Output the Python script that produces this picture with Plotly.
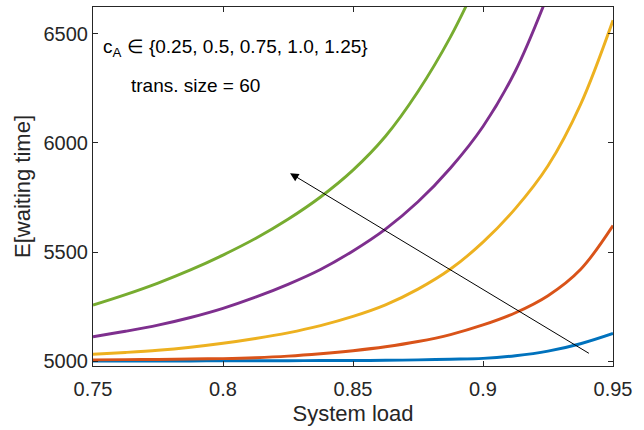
import plotly.graph_objects as go

# ---- data ----
load_grid = [0.75, 0.7625, 0.775, 0.7875, 0.8, 0.8125, 0.825, 0.8375, 0.85,
             0.8625, 0.875, 0.8875, 0.9, 0.9125, 0.925, 0.9375, 0.95]
wait_ca_025 = [5001, 5001, 5001, 5001, 5002, 5002, 5002, 5003, 5003,
               5004, 5006, 5009, 5013, 5025, 5046, 5080, 5127]
wait_ca_050 = [5006, 5007, 5008, 5010, 5012, 5016, 5023, 5034, 5048,
               5066, 5090, 5122, 5166, 5222, 5300, 5420, 5621]
wait_ca_075 = [5032, 5040, 5050, 5064, 5082, 5104, 5130, 5163, 5205,
               5258, 5330, 5422, 5545, 5700, 5895, 6175, 6561]

load_ca_100 = [0.75, 0.7625, 0.775, 0.7875, 0.8, 0.8125, 0.825, 0.8375, 0.85,
               0.8625, 0.875, 0.8875, 0.9, 0.9125, 0.925]
wait_ca_100 = [5112, 5137, 5165, 5200, 5242, 5293, 5352, 5420, 5505,
               5605, 5730, 5885, 6075, 6330, 6680]

load_ca_125 = [0.75, 0.7625, 0.775, 0.7875, 0.8, 0.8125, 0.825, 0.8375, 0.85,
               0.8625, 0.875, 0.8875, 0.9]
wait_ca_125 = [5257, 5305, 5358, 5418, 5486, 5562, 5650, 5752, 5875,
               6030, 6235, 6485, 6790]

series = [
    ("c_A = 0.25", load_grid, wait_ca_025, "#0072BD"),
    ("c_A = 0.5", load_grid, wait_ca_050, "#D95319"),
    ("c_A = 0.75", load_grid, wait_ca_075, "#EDB120"),
    ("c_A = 1.0", load_ca_100, wait_ca_100, "#7E2F8E"),
    ("c_A = 1.25", load_ca_125, wait_ca_125, "#77AC30"),
]

x_ticks = [0.75, 0.8, 0.85, 0.9, 0.95]
x_tick_labels = ["0.75", "0.8", "0.85", "0.9", "0.95"]
y_ticks = [5000, 5500, 6000, 6500]
y_tick_labels = ["5000", "5500", "6000", "6500"]

arrow_tail = (0.9413, 5032)
arrow_head = (0.8258, 5861)

FONT = "Liberation Sans, Arial, Helvetica, sans-serif"
AX = "#262626"

fig = go.Figure()
for name, xs, ys, col in series:
    fig.add_trace(go.Scatter(
        x=xs, y=ys, mode="lines", name=name,
        line=dict(color=col, width=2.9, shape="spline", smoothing=1.0),
        showlegend=False, cliponaxis=True,
    ))

fig.add_annotation(
    x=arrow_head[0], y=arrow_head[1], ax=arrow_tail[0], ay=arrow_tail[1],
    xref="x", yref="y", axref="x", ayref="y",
    text="", showarrow=True, arrowhead=2, arrowsize=1.7, arrowwidth=1,
    arrowcolor="black",
)
fig.add_annotation(
    x=0.7530, y=6432, xref="x", yref="y", xanchor="left", yanchor="middle",
    text="c<sub>A</sub> \u2208 {0.25, 0.5, 0.75, 1.0, 1.25}", showarrow=False,
    font=dict(family=FONT, size=19, color="black"),
)
fig.add_annotation(
    x=0.7640, y=6262, xref="x", yref="y", xanchor="left", yanchor="middle",
    text="trans. size = 60", showarrow=False,
    font=dict(family=FONT, size=19, color="black"),
)

fig.update_layout(
    width=644, height=430,
    margin=dict(l=93, r=31, t=7, b=64),
    paper_bgcolor="white", plot_bgcolor="white",
    font=dict(family=FONT, size=20, color=AX),
)
fig.update_xaxes(
    range=[0.75, 0.95], tickvals=x_ticks, ticktext=x_tick_labels,
    ticks="inside", ticklen=5, tickcolor=AX, mirror="ticks",
    showline=True, linecolor=AX, linewidth=1, showgrid=False, zeroline=False,
    tickfont=dict(family=FONT, size=20, color=AX), ticklabelstandoff=5,
    title=dict(text="System load", font=dict(family=FONT, size=22, color=AX), standoff=6),
)
fig.update_yaxes(
    range=[4978, 6622], tickvals=y_ticks, ticktext=y_tick_labels,
    ticks="inside", ticklen=5, tickcolor=AX, mirror="ticks",
    showline=True, linecolor=AX, linewidth=1, showgrid=False, zeroline=False,
    tickfont=dict(family=FONT, size=20, color=AX),
    title=dict(text="E[waiting time]", font=dict(family=FONT, size=22, color=AX), standoff=6),
)

fig.write_html("out.html", config={"displayModeBar": False},
               post_script="document.body.style.margin='0px';document.body.style.overflow='hidden';")
